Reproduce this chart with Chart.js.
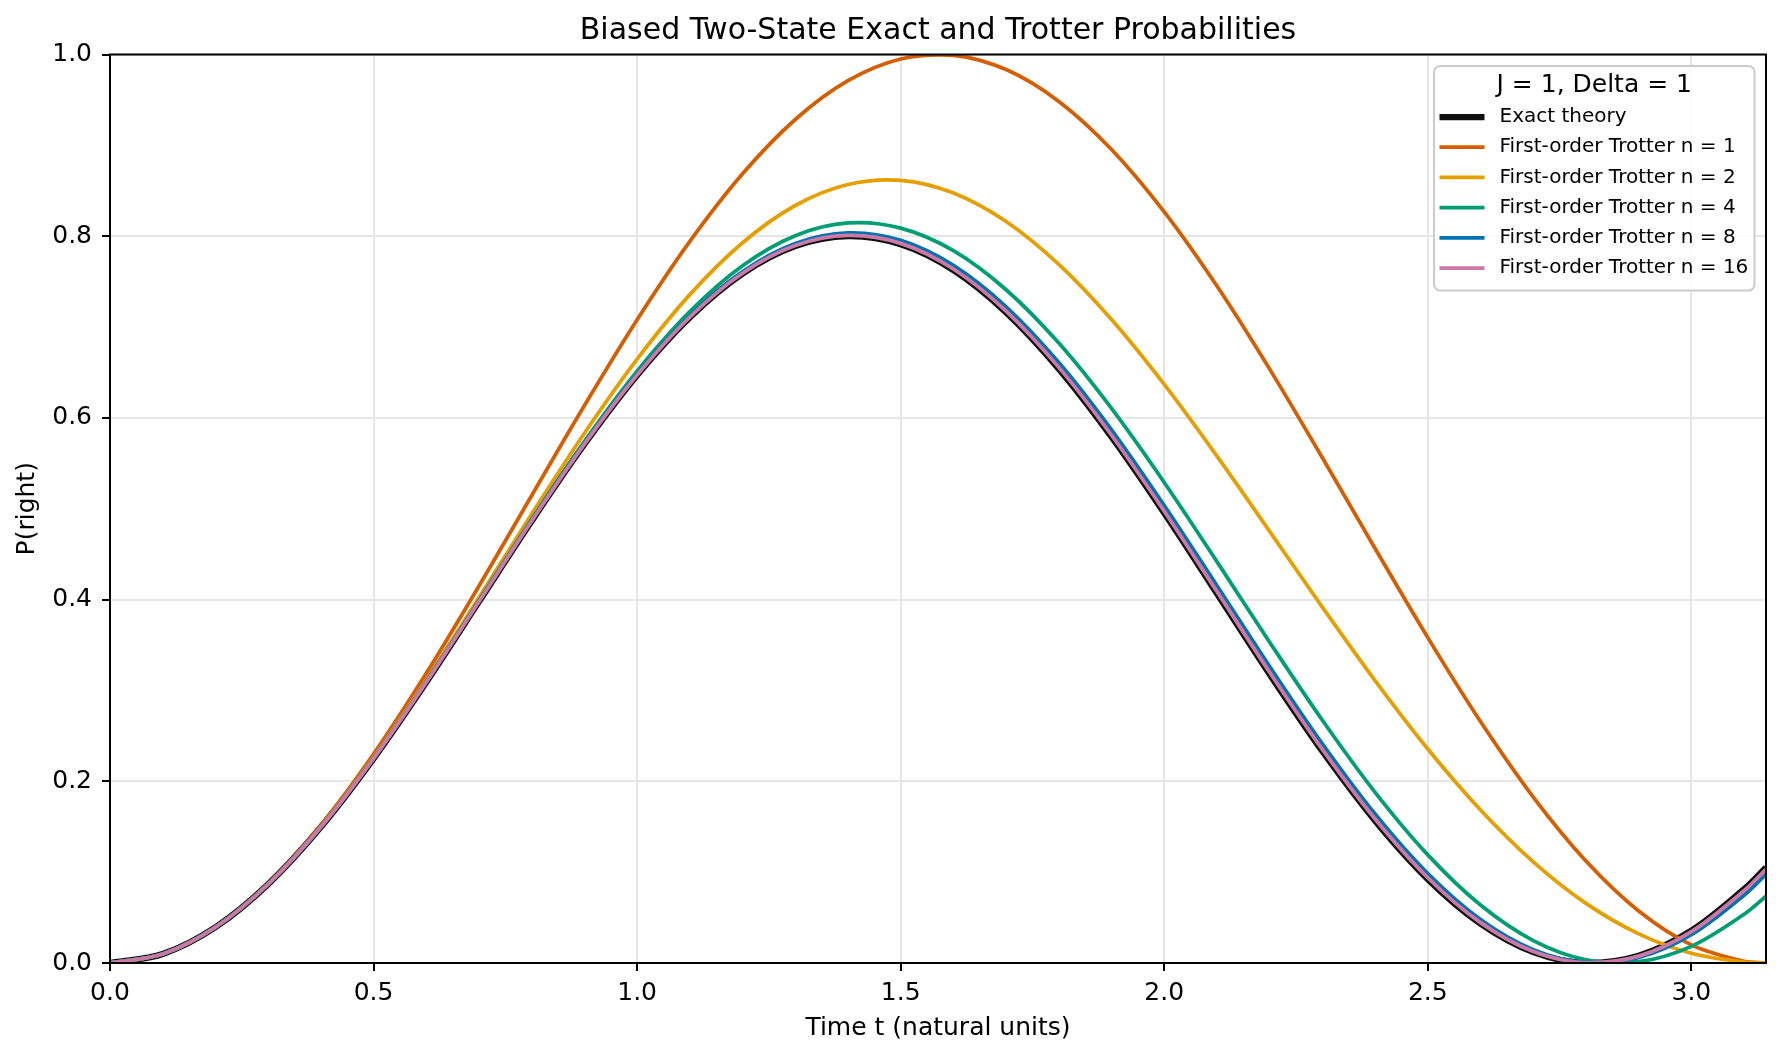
<!DOCTYPE html>
<html>
<head>
<meta charset="utf-8">
<title>Biased Two-State Exact and Trotter Probabilities</title>
<script src="https://cdn.jsdelivr.net/npm/chart.js@4.4.1/dist/chart.umd.min.js"></script>
<style>
    html, body { margin: 0; padding: 0; background: #ffffff; }
    #chart { display: block; }
</style>
</head>
<body>
<canvas id="chart" width="1781" height="1060" style="width:1781px;height:1060px"></canvas>
<script>
// time samples (natural units), last one is pi
const tValues = [
    0, 0.1, 0.2, 0.3, 0.4, 0.5, 0.6, 0.7, 0.8, 0.9, 1.0,
    1.1, 1.2, 1.3, 1.4, 1.5, 1.6, 1.7, 1.8, 1.9, 2.0,
    2.1, 2.2, 2.3, 2.4, 2.5, 2.6, 2.7, 2.8, 2.9, 3.0,
    3.1, 3.14159,
];

const exactTheory = [
    0, 0.00996, 0.03934, 0.08668, 0.14961, 0.22502, 0.30914, 0.39778, 0.48653, 0.57098, 0.64691,
    0.71055, 0.75872, 0.78903, 0.79998, 0.79100, 0.76256, 0.71607, 0.65383, 0.57896, 0.49518,
    0.40666, 0.31781, 0.23305, 0.15660, 0.09227, 0.04327, 0.01202, 0.00010, 0.00809, 0.03559,
    0.08124, 0.10505,
];
const trotterN1 = [
    0, 0.00997, 0.03947, 0.08733, 0.15165, 0.22985, 0.31882, 0.41502, 0.51460, 0.61360, 0.70807,
    0.79425, 0.86870, 0.92844, 0.97111, 0.99500, 0.99915, 0.98340, 0.94838, 0.89548, 0.82682,
    0.74513, 0.65367, 0.55608, 0.45625, 0.35817, 0.26574, 0.18265, 0.11222, 0.05724, 0.01992,
    0.00173, 0,
];
const trotterN2 = [
    0, 0.00996, 0.03938, 0.08684, 0.15012, 0.22630, 0.31170, 0.40240, 0.49430, 0.58310, 0.66470,
    0.73570, 0.79280, 0.83380, 0.85690, 0.86150, 0.84760, 0.81620, 0.76890, 0.70820, 0.63680,
    0.55790, 0.47510, 0.39160, 0.31080, 0.23550, 0.16840, 0.11130, 0.06560, 0.03210, 0.01070,
    0.00090, 0,
];
const trotterN4 = [
    0, 0.00996, 0.03935, 0.08672, 0.14976, 0.22530, 0.30980, 0.39895, 0.48849, 0.57404, 0.65145,
    0.71697, 0.76747, 0.80047, 0.81454, 0.80888, 0.78408, 0.74109, 0.68232, 0.61040, 0.52896,
    0.44179, 0.35312, 0.26715, 0.18785, 0.11904, 0.06376, 0.02472, 0.00360, 0.00143, 0.01832,
    0.05359, 0.07350,
];
const trotterN8 = [
    0, 0.00996, 0.03934, 0.08669, 0.14965, 0.22510, 0.30930, 0.39807, 0.48702, 0.57175, 0.64805,
    0.71216, 0.76091, 0.79190, 0.80362, 0.79549, 0.76793, 0.72232, 0.66092, 0.58676, 0.50350,
    0.41527, 0.32638, 0.24123, 0.16399, 0.09846, 0.04784, 0.01464, 0.00047, 0.00606, 0.03115,
    0.07457, 0.09755,
];
const trotterN16 = [
    0, 0.00996, 0.03934, 0.08668, 0.14962, 0.22504, 0.30918, 0.39785, 0.48666, 0.57117, 0.64719,
    0.71095, 0.75927, 0.78975, 0.80089, 0.79212, 0.76390, 0.71763, 0.65561, 0.58091, 0.49726,
    0.40881, 0.31995, 0.23509, 0.15845, 0.09382, 0.04441, 0.01268, 0.00017, 0.00756, 0.03448,
    0.07957, 0.10319,
];

const xTicks = [0, 0.5, 1.0, 1.5, 2.0, 2.5, 3.0];
const yTicks = [0, 0.2, 0.4, 0.6, 0.8, 1.0];

const FONT = "'DejaVu Sans', 'Liberation Sans', sans-serif";
Chart.defaults.font.family = FONT;
Chart.defaults.color = "#000000";

const SERIES = [
    { label: "Exact theory", values: exactTheory, color: "#111111", width: 6.25, order: 5 },
    { label: "First-order Trotter n = 1", values: trotterN1, color: "#d55e00", width: 3.75, order: 4 },
    { label: "First-order Trotter n = 2", values: trotterN2, color: "#e69f00", width: 3.75, order: 3 },
    { label: "First-order Trotter n = 4", values: trotterN4, color: "#009e73", width: 3.75, order: 2 },
    { label: "First-order Trotter n = 8", values: trotterN8, color: "#0072b2", width: 3.75, order: 1 },
    { label: "First-order Trotter n = 16", values: trotterN16, color: "#cc79a7", width: 3.75, order: 0 },
];

// axes frame on top of the curves, like matplotlib spines
const framePlugin = {
    id: "frame",
    afterDatasetsDraw(chart) {
        const { ctx, chartArea: a } = chart;
        ctx.save();
        ctx.strokeStyle = "#000000";
        ctx.lineWidth = 2;
        ctx.strokeRect(a.left, a.top, a.right - a.left, a.bottom - a.top);
        ctx.restore();
    },
};

// matplotlib style legend box in the upper right corner
const boxLegendPlugin = {
    id: "boxLegend",
    afterDraw(chart) {
        const { ctx, chartArea: a } = chart;
        const box = { left: a.right - 332, top: a.top + 11.5, width: 320.5, height: 224.5 };
        ctx.save();
        ctx.beginPath();
        ctx.roundRect(box.left, box.top, box.width, box.height, 6);
        ctx.fillStyle = "rgba(255, 255, 255, 0.8)";
        ctx.fill();
        ctx.strokeStyle = "#cccccc";
        ctx.lineWidth = 2;
        ctx.stroke();

        ctx.fillStyle = "#000000";
        ctx.textBaseline = "middle";
        ctx.textAlign = "center";
        ctx.font = "25px " + FONT;
        ctx.fillText("J = 1, Delta = 1", box.left + box.width / 2, box.top + 19);

        ctx.textAlign = "left";
        ctx.font = "20px " + FONT;
        chart.data.datasets.forEach((ds, i) => {
            const y = box.top + 51 + i * 30.2;
            ctx.beginPath();
            ctx.moveTo(box.left + 5.5, y);
            ctx.lineTo(box.left + 50.5, y);
            ctx.strokeStyle = ds.borderColor;
            ctx.lineWidth = ds.borderWidth;
            ctx.stroke();
            ctx.fillText(ds.label, box.left + 65.5, y);
        });
        ctx.restore();
    },
};

const tickFont = { family: FONT, size: 25 };

new Chart(document.getElementById("chart"), {
    type: "line",
    data: {
        datasets: SERIES.map((s) => ({
            label: s.label,
            data: tValues.map((t, i) => ({ x: t, y: s.values[i] })),
            borderColor: s.color,
            backgroundColor: s.color,
            borderWidth: s.width,
            pointRadius: 0,
            fill: false,
            tension: 0.33,
            order: s.order,
        })),
    },
    options: {
        responsive: false,
        animation: false,
        devicePixelRatio: 1,
        layout: { padding: { top: 0, right: 15, bottom: 0, left: 0 } },
        plugins: {
            legend: { display: false },
            tooltip: { enabled: false },
            title: {
                display: true,
                fullSize: false,
                text: "Biased Two-State Exact and Trotter Probabilities",
                color: "#000000",
                font: { family: FONT, size: 30, weight: "normal" },
                padding: { top: 13.5, bottom: 5 },
            },
        },
        scales: {
            x: {
                type: "linear",
                min: 0,
                max: 3.14159,
                afterBuildTicks: (axis) => { axis.ticks = xTicks.map((v) => ({ value: v })); },
                afterFit: (axis) => { axis.height = 97; },
                grid: { color: "#e6e6e6", lineWidth: 2, tickColor: "#000000", tickLength: 8, tickWidth: 2 },
                border: { color: "#000000", width: 2 },
                ticks: {
                    color: "#000000",
                    font: tickFont,
                    padding: 7.5,
                    maxRotation: 0,
                    autoSkip: false,
                    callback: (v) => Number(v).toFixed(1),
                },
                title: {
                    display: true,
                    text: "Time t (natural units)",
                    color: "#000000",
                    font: tickFont,
                    padding: { top: 0, bottom: 17 },
                },
            },
            y: {
                type: "linear",
                min: 0,
                max: 1,
                afterBuildTicks: (axis) => { axis.ticks = yTicks.map((v) => ({ value: v })); },
                afterFit: (axis) => { axis.width = 110; },
                grid: { color: "#e6e6e6", lineWidth: 2, tickColor: "#000000", tickLength: 8, tickWidth: 2 },
                border: { color: "#000000", width: 2 },
                ticks: {
                    color: "#000000",
                    font: tickFont,
                    padding: 10,
                    callback: (v) => Number(v).toFixed(1),
                },
                title: {
                    display: true,
                    text: "P(right)",
                    color: "#000000",
                    font: tickFont,
                    padding: { top: 12, bottom: 0 },
                },
            },
        },
    },
    plugins: [framePlugin, boxLegendPlugin],
});
</script>
</body>
</html>
